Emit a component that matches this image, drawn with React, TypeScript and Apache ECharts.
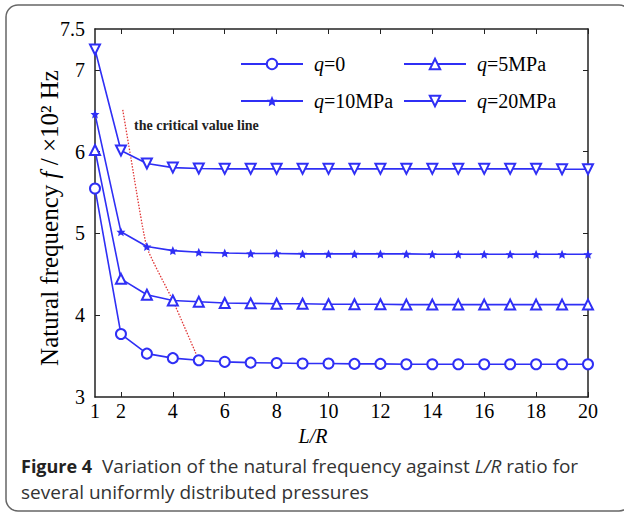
import React, { useEffect, useRef } from "react";
import * as echarts from "echarts";

const LR = [1, 2, 3, 4, 5, 6, 7, 8, 9, 10, 11, 12, 13, 14, 15, 16, 17, 18, 19, 20];
const seriesNames = ["q=0", "q=5MPa", "q=10MPa", "q=20MPa"];
const q0 = [5.55, 3.77, 3.53, 3.475, 3.45, 3.43, 3.42, 3.415, 3.41, 3.41, 3.405, 3.405, 3.40, 3.40, 3.40, 3.40, 3.40, 3.40, 3.40, 3.40];
const q5 = [6.02, 4.445, 4.25, 4.18, 4.165, 4.15, 4.145, 4.14, 4.14, 4.135, 4.135, 4.135, 4.13, 4.13, 4.13, 4.13, 4.13, 4.13, 4.13, 4.13];
const q10 = [6.46, 5.02, 4.84, 4.79, 4.77, 4.76, 4.755, 4.755, 4.75, 4.75, 4.75, 4.75, 4.75, 4.745, 4.745, 4.745, 4.745, 4.745, 4.745, 4.745];
const q20 = [7.25, 6.015, 5.855, 5.805, 5.795, 5.79, 5.79, 5.79, 5.79, 5.79, 5.79, 5.79, 5.79, 5.79, 5.79, 5.79, 5.79, 5.79, 5.785, 5.785];
const criticalLine = [
  [2.07, 6.51],
  [2.38, 5.93],
  [3.0, 4.83],
  [4.0, 4.18],
  [5.0, 3.45],
];
const xLabelValues = [1, 2, 4, 6, 8, 10, 12, 14, 16, 18, 20];
const xTickValues = [2, 4, 6, 8, 10, 12, 14, 16, 18, 20];
const yLabelValues = [3, 4, 5, 6, 7, 7.5];
const yTickValues = [4, 5, 6, 7];

const BLUE = "#2f2ff5";
const SERIF = "'Liberation Serif', 'DejaVu Serif', serif";
const SANS = "'Open Sans', 'Noto Sans', sans-serif";
const STAR =
  "path://M0,-10L3,-3.2L9.5,-3.1L4.6,1.4L5.9,8.1L0,4.6L-5.9,8.1L-4.6,1.4L-9.5,-3.1L-3,-3.2Z";

export default function App() {
  const ref = useRef<HTMLDivElement>(null);
  useEffect(() => {
    if (!ref.current) return;
    const chart = echarts.init(ref.current, null, { renderer: "svg" });
    const values = [q0, q5, q10, q20];
    const symbols = ["emptyCircle", "emptyTriangle", STAR, "emptyTriangle"];
    const sizes = [10, 10, 9, 10];
    const rotates = [0, 0, 0, 180];
    const legendRich = {
      i: { fontFamily: SERIF, fontStyle: "italic", fontSize: 20, color: "#000", padding: [0, 0, 0, 6] },
      n: { fontFamily: SERIF, fontSize: 20, color: "#000" },
    };
    const legendFormatter = (name: string) => `{i|q}{n|${name.slice(1)}}`;
    const legendBase = {
      orient: "vertical",
      padding: 0,
      itemWidth: 62,
      itemHeight: 13,
      itemGap: 17,
      formatter: legendFormatter,
      textStyle: { rich: legendRich },
      selectedMode: false,
    };
    const axisLineStyle = { color: "#222", width: 1.5 };
    chart.setOption({
      animation: false,
      backgroundColor: "#fff",
      grid: { left: 95, right: 36, top: 29, bottom: 116 },
      legend: [
        { ...legendBase, data: ["q=0", "q=10MPa"], left: 240, top: 54 },
        { ...legendBase, data: ["q=5MPa", "q=20MPa"], left: 403, top: 54 },
      ],
      xAxis: [
        {
          type: "value",
          min: 1,
          max: 20,
          position: "bottom",
          axisLine: { lineStyle: axisLineStyle },
          splitLine: { show: false },
          axisTick: { inside: true, length: 5, customValues: xTickValues, lineStyle: { color: "#222" } },
          axisLabel: {
            customValues: xLabelValues,
            fontFamily: SERIF,
            fontSize: 20,
            color: "#000",
            margin: 4,
          },
        },
        {
          type: "value",
          min: 1,
          max: 20,
          position: "top",
          axisLine: { lineStyle: axisLineStyle },
          splitLine: { show: false },
          axisTick: { inside: true, length: 5, customValues: xTickValues, lineStyle: { color: "#222" } },
          axisLabel: { show: false },
        },
      ],
      yAxis: [
        {
          type: "value",
          min: 3,
          max: 7.5,
          position: "left",
          axisLine: { lineStyle: axisLineStyle },
          splitLine: { show: false },
          axisTick: { inside: true, length: 5, customValues: yTickValues, lineStyle: { color: "#222" } },
          axisLabel: {
            customValues: yLabelValues,
            fontFamily: SERIF,
            fontSize: 20,
            color: "#000",
            margin: 10,
          },
        },
        {
          type: "value",
          min: 3,
          max: 7.5,
          position: "right",
          axisLine: { lineStyle: axisLineStyle },
          splitLine: { show: false },
          axisTick: { inside: true, length: 5, customValues: yTickValues, lineStyle: { color: "#222" } },
          axisLabel: { show: false },
        },
      ],
      series: [
        ...seriesNames.map((name, k) => ({
          name,
          type: "line",
          data: LR.map((x, i) => [x, values[k][i]]),
          symbol: symbols[k],
          symbolSize: sizes[k],
          symbolRotate: rotates[k],
          showAllSymbol: true,
          lineStyle: { color: BLUE, width: 1.6 },
          itemStyle: { color: BLUE, borderWidth: 1.5 },
          z: 3,
        })),
        {
          name: "critical",
          type: "line",
          data: criticalLine,
          symbol: "none",
          smooth: 0.15,
          lineStyle: { color: "#e03535", width: 1.3, type: [1.5, 1.5] },
          z: 2,
        },
      ],
      graphic: [
        {
          type: "rect",
          shape: { x: 6, y: 5, width: 625, height: 506, r: 12 },
          style: { fill: "none", stroke: "#666", lineWidth: 1.5 },
          silent: true,
        },
        {
          type: "text",
          x: 134,
          y: 125,
          style: {
            text: "the critical value line",
            font: `bold 14px ${SERIF}`,
            fill: "#222",
            textVerticalAlign: "middle",
          },
        },
        {
          type: "text",
          x: 49,
          y: 218,
          rotation: Math.PI / 2,
          style: {
            text: "{n|Natural frequency }{i|f}{n| / ×10² Hz}",
            textAlign: "center",
            textVerticalAlign: "middle",
            rich: {
              n: { fontFamily: SERIF, fontSize: 25, fill: "#000" },
              i: { fontFamily: SERIF, fontSize: 25, fontStyle: "italic", fill: "#000" },
            },
          },
        },
        {
          type: "text",
          x: 313,
          y: 436,
          style: {
            text: "L/R",
            font: `italic 20px ${SERIF}`,
            fill: "#000",
            textAlign: "center",
            textVerticalAlign: "middle",
          },
        },
        {
          type: "text",
          x: 21,
          y: 466,
          style: {
            text: "{b|Figure 4}{n|  Variation of the natural frequency against }{i|L/R}{n| ratio for}",
            textVerticalAlign: "middle",
            rich: {
              b: { fontFamily: SANS, fontSize: 18, fontWeight: "bold", fill: "#222" },
              n: { fontFamily: SANS, fontSize: 19, fill: "#333" },
              i: { fontFamily: SANS, fontSize: 19, fontStyle: "italic", fill: "#333" },
            },
          },
        },
        {
          type: "text",
          x: 21,
          y: 492,
          style: {
            text: "several uniformly distributed pressures",
            font: `19px ${SANS}`,
            fill: "#333",
            textVerticalAlign: "middle",
          },
        },
      ],
    });
    return () => chart.dispose();
  }, []);
  return (
    <div
      ref={ref}
      style={{ position: "fixed", left: 0, top: 0, width: 624, height: 513 }}
    />
  );
}
